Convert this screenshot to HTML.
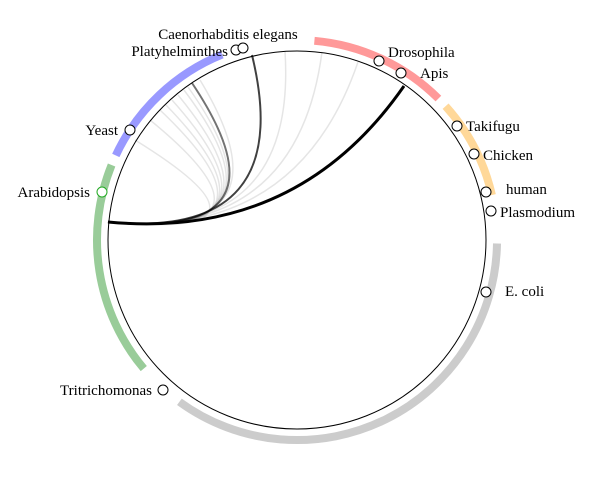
<!DOCTYPE html>
<html><head><style>
body{margin:0;background:#fff;}
svg{display:block;}
text{font-family:"Liberation Serif",serif;font-size:15px;fill:#000;}
</style></head><body>
<svg width="600" height="480" viewBox="0 0 600 480">
<g fill="none" stroke-width="8">
<path d="M115.8,155.4 A200,200 0 0 1 222.1,54.6" stroke="#9999ff"/>
<path d="M143.8,368.6 A200,200 0 0 1 111.6,165" stroke="#99cc99"/>
<path d="M497,243.5 A200,200 0 0 1 179.4,401.8" stroke="#cccccc"/>
<path d="M445.6,106.2 A200,200 0 0 1 491.9,195" stroke="#ffd899"/>
<path d="M314.4,40.8 A200,200 0 0 1 438.4,98.6" stroke="#ff9999"/>
</g>
<circle cx="297" cy="240" r="189" fill="none" stroke="#000" stroke-width="1"/>
<g fill="none" stroke="#000" stroke-opacity="0.1" stroke-width="1.5">
<path d="M108,222 Q297,240 135,140"/>
<path d="M108,222 Q297,240 150,120"/>
<path d="M108,222 Q297,240 160,110"/>
<path d="M108,222 Q297,240 166,105"/>
<path d="M108,222 Q297,240 172,100"/>
<path d="M108,222 Q297,240 178,95"/>
<path d="M108,222 Q297,240 184,90"/>
<path d="M108,222 Q297,240 188,87"/>
<path d="M108,222 Q297,240 200,80"/>
<path d="M108,222 Q297,240 285,51"/>
<path d="M108,222 Q297,240 322,52"/>
<path d="M108,222 Q297,240 358,62"/>
</g>
<path d="M108,222 Q297,240 192,83" fill="none" stroke="#000" stroke-opacity="0.55" stroke-width="2"/>
<path d="M108,222 Q297,240 252,55" fill="none" stroke="#000" stroke-opacity="0.75" stroke-width="2"/>
<path d="M108,222 Q297,240 404,86" fill="none" stroke="#000" stroke-width="3"/>
<g fill="#fff" stroke="#000" stroke-width="1">
<circle cx="236" cy="50" r="5"/>
<circle cx="243" cy="48" r="5"/>
<circle cx="379" cy="61" r="5"/>
<circle cx="401" cy="73" r="5"/>
<circle cx="130" cy="130" r="5"/>
<circle cx="102" cy="192" r="5" stroke="#2a2"/>
<circle cx="457" cy="126" r="5"/>
<circle cx="474" cy="154" r="5"/>
<circle cx="486" cy="192" r="5"/>
<circle cx="491" cy="211" r="5"/>
<circle cx="486" cy="292" r="5"/>
<circle cx="163" cy="390" r="5"/>
</g>
<text x="228" y="39" text-anchor="middle">Caenorhabditis elegans</text>
<text x="228" y="56" text-anchor="end">Platyhelminthes</text>
<text x="388" y="57">Drosophila</text>
<text x="420" y="78">Apis</text>
<text x="118" y="135" text-anchor="end">Yeast</text>
<text x="90" y="197" text-anchor="end">Arabidopsis</text>
<text x="466" y="131">Takifugu</text>
<text x="483" y="160">Chicken</text>
<text x="506" y="194">human</text>
<text x="500" y="217">Plasmodium</text>
<text x="505" y="296">E. coli</text>
<text x="152" y="395" text-anchor="end">Tritrichomonas</text>
</svg>
</body></html>
